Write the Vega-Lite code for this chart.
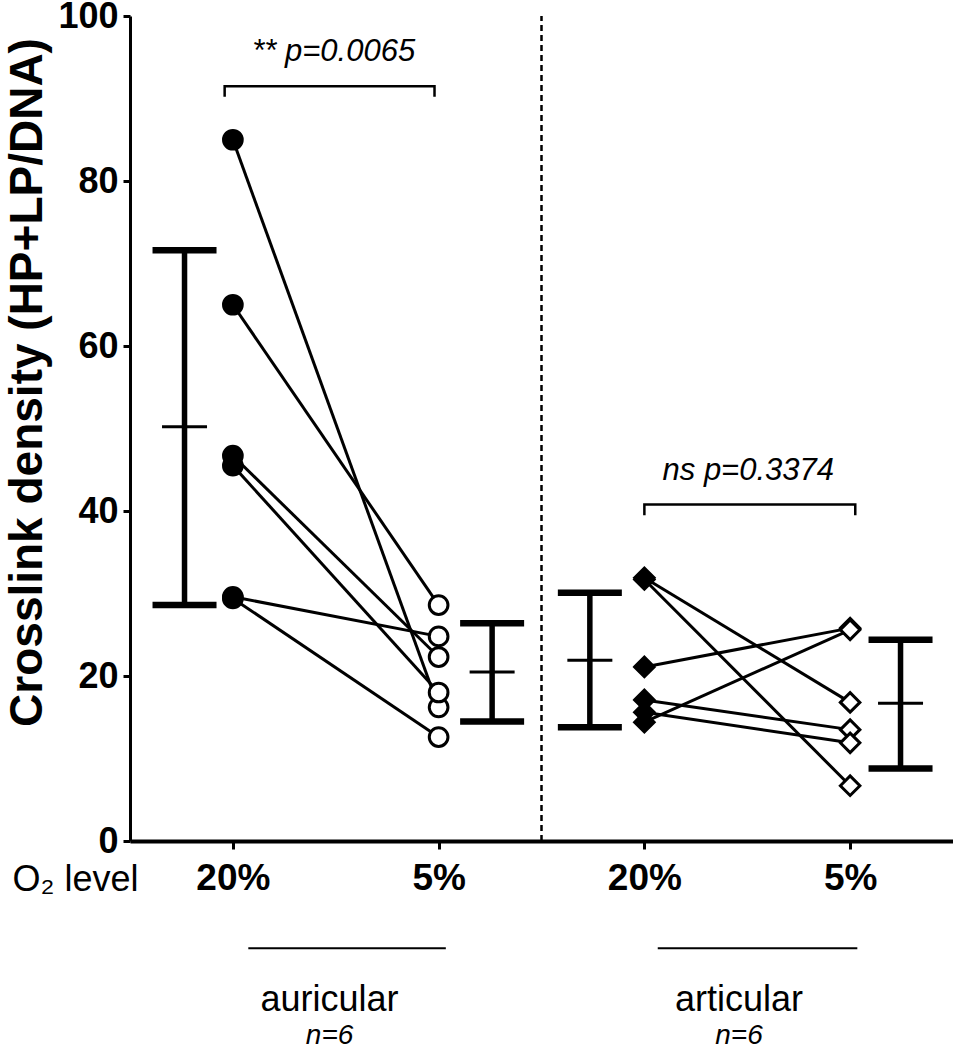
{
  "$schema": "https://vega.github.io/schema/vega-lite/v6.json",
  "width": 823,
  "height": 825,
  "autosize": {"type": "none"},
  "padding": {"left": 130, "top": 16, "right": 0, "bottom": 209},
  "background": "white",
  "config": {
    "view": {"stroke": null},
    "font": "Liberation Sans",
    "axis": {"domainColor": "black", "domainWidth": 3, "tickColor": "black", "tickWidth": 3, "grid": false, "labelColor": "black", "titleColor": "black", "labelOverlap": false, "labelFont": "Liberation Sans", "titleFont": "Liberation Sans"},
    "axisY": {"tickSize": 7, "labelFontWeight": "bold", "labelFontSize": 36, "labelPadding": 5, "titleFontWeight": "bold", "titleFontSize": 46, "titleX": -89, "titleY": 366, "titleBaseline": "alphabetic", "titleAngle": 270, "titleAlign": "center"},
    "axisX": {"tickSize": 8, "domainWidth": 4, "labelFontSize": 37, "labelFontWeight": "bold", "labelPadding": 11, "labelFlush": false}
  },
  "datasets": {
    "pts": [
      {"tissue": "auricular", "pair": 1, "o2": "20%", "pos": 1, "value": 85.0},
      {"tissue": "auricular", "pair": 1, "o2": "5%", "pos": 3, "value": 16.2},
      {"tissue": "auricular", "pair": 2, "o2": "20%", "pos": 1, "value": 65.0},
      {"tissue": "auricular", "pair": 2, "o2": "5%", "pos": 3, "value": 28.6},
      {"tissue": "auricular", "pair": 3, "o2": "20%", "pos": 1, "value": 46.7},
      {"tissue": "auricular", "pair": 3, "o2": "5%", "pos": 3, "value": 22.3},
      {"tissue": "auricular", "pair": 4, "o2": "20%", "pos": 1, "value": 45.5},
      {"tissue": "auricular", "pair": 4, "o2": "5%", "pos": 3, "value": 18.0},
      {"tissue": "auricular", "pair": 5, "o2": "20%", "pos": 1, "value": 29.6},
      {"tissue": "auricular", "pair": 5, "o2": "5%", "pos": 3, "value": 24.8},
      {"tissue": "auricular", "pair": 6, "o2": "20%", "pos": 1, "value": 29.4},
      {"tissue": "auricular", "pair": 6, "o2": "5%", "pos": 3, "value": 12.6},
      {"tissue": "articular", "pair": 7, "o2": "20%", "pos": 5, "value": 31.9},
      {"tissue": "articular", "pair": 7, "o2": "5%", "pos": 7, "value": 16.8},
      {"tissue": "articular", "pair": 8, "o2": "20%", "pos": 5, "value": 31.7},
      {"tissue": "articular", "pair": 8, "o2": "5%", "pos": 7, "value": 6.7},
      {"tissue": "articular", "pair": 9, "o2": "20%", "pos": 5, "value": 21.1},
      {"tissue": "articular", "pair": 9, "o2": "5%", "pos": 7, "value": 25.8},
      {"tissue": "articular", "pair": 10, "o2": "20%", "pos": 5, "value": 17.1},
      {"tissue": "articular", "pair": 10, "o2": "5%", "pos": 7, "value": 13.5},
      {"tissue": "articular", "pair": 11, "o2": "20%", "pos": 5, "value": 15.6},
      {"tissue": "articular", "pair": 11, "o2": "5%", "pos": 7, "value": 11.9},
      {"tissue": "articular", "pair": 12, "o2": "20%", "pos": 5, "value": 14.4},
      {"tissue": "articular", "pair": 12, "o2": "5%", "pos": 7, "value": 25.6}
    ],
    "bars": [
      {"pos": 0.53, "mean": 50.2, "lo": 28.6, "hi": 71.6},
      {"pos": 3.52, "mean": 20.5, "lo": 14.5, "hi": 26.4},
      {"pos": 4.47, "mean": 21.9, "lo": 13.8, "hi": 30.1},
      {"pos": 7.49, "mean": 16.7, "lo": 8.8, "hi": 24.4}
    ],
    "brackets": [
      {"grp": "a", "i": 0, "x": 0.92, "y": 90.2},
      {"grp": "a", "i": 1, "x": 0.92, "y": 91.5},
      {"grp": "a", "i": 2, "x": 2.96, "y": 91.5},
      {"grp": "a", "i": 3, "x": 2.96, "y": 90.2},
      {"grp": "b", "i": 0, "x": 5.0, "y": 39.5},
      {"grp": "b", "i": 1, "x": 5.0, "y": 40.8},
      {"grp": "b", "i": 2, "x": 7.05, "y": 40.8},
      {"grp": "b", "i": 3, "x": 7.05, "y": 39.5}
    ],
    "underlines": [
      {"x": 1.15, "x2": 3.07, "y": -13.0},
      {"x": 5.13, "x2": 7.07, "y": -13.0}
    ],
    "notes": [
      {"kind": "p", "label": "** p=0.0065", "x": 1.98, "y": 95.6},
      {"kind": "p", "label": "ns p=0.3374", "x": 6.01, "y": 44.8},
      {"kind": "o2", "label": "O₂ level", "x": -0.53, "y": -4.7},
      {"kind": "group", "label": "auricular", "x": 1.94, "y": -19.3},
      {"kind": "group", "label": "articular", "x": 5.92, "y": -19.3},
      {"kind": "n", "label": "n=6", "x": 1.94, "y": -23.6},
      {"kind": "n", "label": "n=6", "x": 5.92, "y": -23.6}
    ]
  },
  "layer": [
    {
      "data": {"name": "pts"},
      "mark": {"type": "line", "color": "black", "strokeWidth": 3},
      "encoding": {
        "x": {"field": "pos", "type": "quantitative", "scale": {"domain": [0, 8], "nice": false}, "axis": {"values": [1, 3, 5, 7], "labelExpr": "datum.value == 1 || datum.value == 5 ? '20%' : '5%'"}, "title": null},
        "y": {"field": "value", "type": "quantitative", "scale": {"domain": [0, 100], "nice": false}, "axis": {"values": [0, 20, 40, 60, 80, 100]}, "title": "Crosslink density (HP+LP/DNA)"},
        "detail": {"field": "pair", "type": "nominal"}
      }
    },
    {
      "data": {"values": [{}]},
      "mark": {"type": "rule", "color": "black", "strokeWidth": 2.5, "strokeDash": [6, 4]},
      "encoding": {
        "x": {"datum": 4, "type": "quantitative", "title": null},
        "y": {"datum": 0, "type": "quantitative", "title": "Crosslink density (HP+LP/DNA)"},
        "y2": {"datum": 100}
      }
    },
    {
      "data": {"name": "pts"},
      "mark": {"type": "point", "filled": false, "stroke": "black", "strokeWidth": 3, "opacity": 1},
      "encoding": {
        "x": {"field": "pos", "type": "quantitative", "title": null},
        "y": {"field": "value", "type": "quantitative", "title": "Crosslink density (HP+LP/DNA)"},
        "shape": {"field": "tissue", "type": "nominal", "scale": {"domain": ["auricular", "articular"], "range": ["circle", "diamond"]}, "legend": null},
        "fill": {"field": "o2", "type": "nominal", "scale": {"domain": ["20%", "5%"], "range": ["black", "white"]}, "legend": null},
        "size": {"field": "tissue", "type": "nominal", "scale": {"domain": ["auricular", "articular"], "range": [350, 380]}, "legend": null}
      }
    },
    {
      "data": {"name": "bars"},
      "mark": {"type": "rule", "color": "black", "strokeWidth": 5.5},
      "encoding": {
        "x": {"field": "pos", "type": "quantitative", "title": null},
        "y": {"field": "lo", "type": "quantitative", "title": "Crosslink density (HP+LP/DNA)"},
        "y2": {"field": "hi"}
      }
    },
    {
      "data": {"name": "bars"},
      "mark": {"type": "tick", "orient": "horizontal", "color": "black", "size": 64, "thickness": 6.5, "opacity": 1},
      "encoding": {
        "x": {"field": "pos", "type": "quantitative", "title": null},
        "y": {"field": "hi", "type": "quantitative", "title": "Crosslink density (HP+LP/DNA)"}
      }
    },
    {
      "data": {"name": "bars"},
      "mark": {"type": "tick", "orient": "horizontal", "color": "black", "size": 64, "thickness": 6.5, "opacity": 1},
      "encoding": {
        "x": {"field": "pos", "type": "quantitative", "title": null},
        "y": {"field": "lo", "type": "quantitative", "title": "Crosslink density (HP+LP/DNA)"}
      }
    },
    {
      "data": {"name": "bars"},
      "mark": {"type": "tick", "orient": "horizontal", "color": "black", "size": 45, "thickness": 3, "opacity": 1},
      "encoding": {
        "x": {"field": "pos", "type": "quantitative", "title": null},
        "y": {"field": "mean", "type": "quantitative", "title": "Crosslink density (HP+LP/DNA)"}
      }
    },
    {
      "data": {"name": "brackets"},
      "mark": {"type": "line", "color": "black", "strokeWidth": 2.5},
      "encoding": {
        "x": {"field": "x", "type": "quantitative", "title": null},
        "y": {"field": "y", "type": "quantitative", "title": "Crosslink density (HP+LP/DNA)"},
        "detail": {"field": "grp", "type": "nominal"},
        "order": {"field": "i", "type": "quantitative"}
      }
    },
    {
      "data": {"name": "underlines"},
      "mark": {"type": "rule", "color": "black", "strokeWidth": 2},
      "encoding": {
        "x": {"field": "x", "type": "quantitative", "title": null},
        "x2": {"field": "x2"},
        "y": {"field": "y", "type": "quantitative", "title": "Crosslink density (HP+LP/DNA)"}
      }
    },
    {
      "data": {"name": "notes"},
      "transform": [{"filter": "datum.kind == 'p'"}],
      "mark": {"type": "text", "font": "Liberation Sans", "fontStyle": "italic", "fontSize": 31, "color": "black", "baseline": "middle", "align": "center"},
      "encoding": {
        "x": {"field": "x", "type": "quantitative", "title": null},
        "y": {"field": "y", "type": "quantitative", "title": "Crosslink density (HP+LP/DNA)"},
        "text": {"field": "label"}
      }
    },
    {
      "data": {"name": "notes"},
      "transform": [{"filter": "datum.kind == 'o2' || datum.kind == 'group'"}],
      "mark": {"type": "text", "font": "Liberation Sans", "fontSize": 36, "color": "black", "baseline": "middle", "align": "center"},
      "encoding": {
        "x": {"field": "x", "type": "quantitative", "title": null},
        "y": {"field": "y", "type": "quantitative", "title": "Crosslink density (HP+LP/DNA)"},
        "text": {"field": "label"}
      }
    },
    {
      "data": {"name": "notes"},
      "transform": [{"filter": "datum.kind == 'n'"}],
      "mark": {"type": "text", "font": "Liberation Sans", "fontStyle": "italic", "fontSize": 28, "color": "black", "baseline": "middle", "align": "center"},
      "encoding": {
        "x": {"field": "x", "type": "quantitative", "title": null},
        "y": {"field": "y", "type": "quantitative", "title": "Crosslink density (HP+LP/DNA)"},
        "text": {"field": "label"}
      }
    }
  ]
}
